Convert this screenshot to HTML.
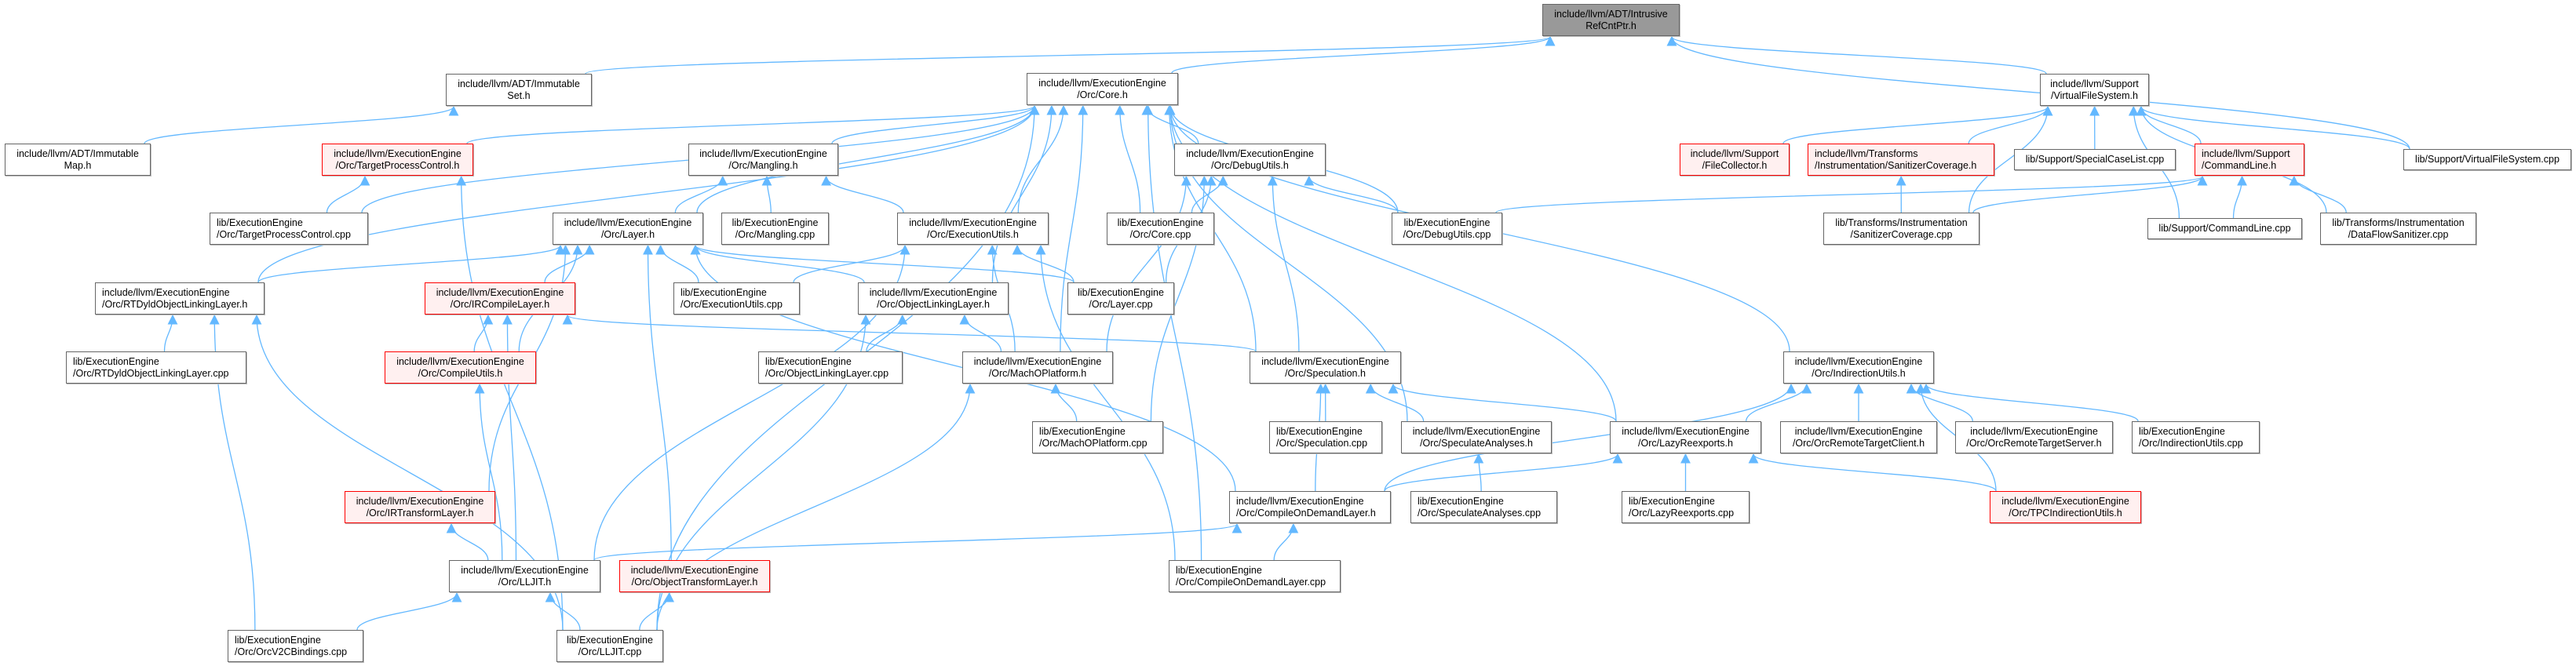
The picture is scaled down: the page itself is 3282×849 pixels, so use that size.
<!DOCTYPE html>
<html><head><meta charset="utf-8">
<style>
html,body{margin:0;padding:0;background:#fff;}
#c{position:relative;width:3282px;height:849px;overflow:hidden;}
.n{position:absolute;box-sizing:border-box;border:1px solid #666;background:#fff;font-family:"Liberation Sans",sans-serif;font-size:12.5px;line-height:15px;color:#000;display:flex;flex-direction:column;justify-content:center;align-items:center;text-align:center;white-space:nowrap;z-index:2;box-shadow:1px 1px 0 #bbb;}
.l{align-items:flex-start;text-align:left;padding-left:8px;}
.r{border-color:#f00;background:#fff0f0;}
.g{background:#999;}
svg{position:absolute;left:0;top:0;z-index:1;}
</style></head><body><div id="c">
<div class="n g" id="root" style="left:1965px;top:5px;width:175px;height:41px">include/llvm/ADT/Intrusive<br>RefCntPtr.h</div>
<div class="n" id="iset" style="left:568px;top:94px;width:186px;height:41px">include/llvm/ADT/Immutable<br>Set.h</div>
<div class="n" id="core" style="left:1308px;top:93px;width:193px;height:41px">include/llvm/ExecutionEngine<br>/Orc/Core.h</div>
<div class="n" id="vfs" style="left:2599px;top:94px;width:139px;height:41px">include/llvm/Support<br>/VirtualFileSystem.h</div>
<div class="n" id="imap" style="left:6px;top:183px;width:186px;height:41px">include/llvm/ADT/Immutable<br>Map.h</div>
<div class="n r" id="tpch" style="left:410px;top:183px;width:193px;height:41px">include/llvm/ExecutionEngine<br>/Orc/TargetProcessControl.h</div>
<div class="n" id="mangh" style="left:877px;top:183px;width:191px;height:41px">include/llvm/ExecutionEngine<br>/Orc/Mangling.h</div>
<div class="n" id="dbgh" style="left:1496px;top:183px;width:193px;height:41px">include/llvm/ExecutionEngine<br>/Orc/DebugUtils.h</div>
<div class="n r" id="fc" style="left:2140px;top:183px;width:140px;height:41px">include/llvm/Support<br>/FileCollector.h</div>
<div class="n r l" id="sch" style="left:2303px;top:183px;width:238px;height:41px">include/llvm/Transforms<br>/Instrumentation/SanitizerCoverage.h</div>
<div class="n" id="scl" style="left:2566px;top:190px;width:206px;height:27px">lib/Support/SpecialCaseList.cpp</div>
<div class="n r l" id="clh" style="left:2796px;top:183px;width:140px;height:41px">include/llvm/Support<br>/CommandLine.h</div>
<div class="n" id="vfscpp" style="left:3062px;top:190px;width:214px;height:27px">lib/Support/VirtualFileSystem.cpp</div>
<div class="n l" id="tpccpp" style="left:267px;top:271px;width:202px;height:41px">lib/ExecutionEngine<br>/Orc/TargetProcessControl.cpp</div>
<div class="n" id="layh" style="left:704px;top:271px;width:192px;height:41px">include/llvm/ExecutionEngine<br>/Orc/Layer.h</div>
<div class="n" id="mangcpp" style="left:919px;top:271px;width:137px;height:41px">lib/ExecutionEngine<br>/Orc/Mangling.cpp</div>
<div class="n" id="euh" style="left:1143px;top:271px;width:193px;height:41px">include/llvm/ExecutionEngine<br>/Orc/ExecutionUtils.h</div>
<div class="n" id="corecpp" style="left:1410px;top:271px;width:137px;height:41px">lib/ExecutionEngine<br>/Orc/Core.cpp</div>
<div class="n" id="dbgcpp" style="left:1773px;top:271px;width:141px;height:41px">lib/ExecutionEngine<br>/Orc/DebugUtils.cpp</div>
<div class="n" id="sccpp" style="left:2323px;top:271px;width:199px;height:41px">lib/Transforms/Instrumentation<br>/SanitizerCoverage.cpp</div>
<div class="n" id="clcpp" style="left:2736px;top:278px;width:197px;height:27px">lib/Support/CommandLine.cpp</div>
<div class="n" id="dfs" style="left:2956px;top:271px;width:199px;height:41px">lib/Transforms/Instrumentation<br>/DataFlowSanitizer.cpp</div>
<div class="n l" id="rtdh" style="left:121px;top:360px;width:216px;height:41px">include/llvm/ExecutionEngine<br>/Orc/RTDyldObjectLinkingLayer.h</div>
<div class="n r" id="irch" style="left:541px;top:360px;width:192px;height:41px">include/llvm/ExecutionEngine<br>/Orc/IRCompileLayer.h</div>
<div class="n l" id="eucpp" style="left:858px;top:360px;width:161px;height:41px">lib/ExecutionEngine<br>/Orc/ExecutionUtils.cpp</div>
<div class="n" id="olh" style="left:1093px;top:360px;width:192px;height:41px">include/llvm/ExecutionEngine<br>/Orc/ObjectLinkingLayer.h</div>
<div class="n" id="laycpp" style="left:1360px;top:360px;width:136px;height:41px">lib/ExecutionEngine<br>/Orc/Layer.cpp</div>
<div class="n l" id="rtdcpp" style="left:84px;top:448px;width:230px;height:41px">lib/ExecutionEngine<br>/Orc/RTDyldObjectLinkingLayer.cpp</div>
<div class="n r" id="cuh" style="left:490px;top:448px;width:193px;height:41px">include/llvm/ExecutionEngine<br>/Orc/CompileUtils.h</div>
<div class="n l" id="olcpp" style="left:966px;top:448px;width:184px;height:41px">lib/ExecutionEngine<br>/Orc/ObjectLinkingLayer.cpp</div>
<div class="n" id="mach" style="left:1226px;top:448px;width:192px;height:41px">include/llvm/ExecutionEngine<br>/Orc/MachOPlatform.h</div>
<div class="n" id="spech" style="left:1592px;top:448px;width:193px;height:41px">include/llvm/ExecutionEngine<br>/Orc/Speculation.h</div>
<div class="n" id="indh" style="left:2272px;top:448px;width:192px;height:41px">include/llvm/ExecutionEngine<br>/Orc/IndirectionUtils.h</div>
<div class="n l" id="maccpp" style="left:1315px;top:537px;width:167px;height:41px">lib/ExecutionEngine<br>/Orc/MachOPlatform.cpp</div>
<div class="n l" id="speccpp" style="left:1617px;top:537px;width:144px;height:41px">lib/ExecutionEngine<br>/Orc/Speculation.cpp</div>
<div class="n" id="sah" style="left:1785px;top:537px;width:192px;height:41px">include/llvm/ExecutionEngine<br>/Orc/SpeculateAnalyses.h</div>
<div class="n" id="lrh" style="left:2051px;top:537px;width:193px;height:41px">include/llvm/ExecutionEngine<br>/Orc/LazyReexports.h</div>
<div class="n" id="rtc" style="left:2268px;top:537px;width:200px;height:41px">include/llvm/ExecutionEngine<br>/Orc/OrcRemoteTargetClient.h</div>
<div class="n" id="rts" style="left:2491px;top:537px;width:201px;height:41px">include/llvm/ExecutionEngine<br>/Orc/OrcRemoteTargetServer.h</div>
<div class="n l" id="indcpp" style="left:2716px;top:537px;width:163px;height:41px">lib/ExecutionEngine<br>/Orc/IndirectionUtils.cpp</div>
<div class="n r" id="irth" style="left:439px;top:626px;width:192px;height:41px">include/llvm/ExecutionEngine<br>/Orc/IRTransformLayer.h</div>
<div class="n l" id="codh" style="left:1566px;top:626px;width:206px;height:41px">include/llvm/ExecutionEngine<br>/Orc/CompileOnDemandLayer.h</div>
<div class="n l" id="sacpp" style="left:1797px;top:626px;width:187px;height:41px">lib/ExecutionEngine<br>/Orc/SpeculateAnalyses.cpp</div>
<div class="n l" id="lrcpp" style="left:2066px;top:626px;width:163px;height:41px">lib/ExecutionEngine<br>/Orc/LazyReexports.cpp</div>
<div class="n r" id="tpci" style="left:2535px;top:626px;width:193px;height:41px">include/llvm/ExecutionEngine<br>/Orc/TPCIndirectionUtils.h</div>
<div class="n" id="lljith" style="left:572px;top:714px;width:193px;height:41px">include/llvm/ExecutionEngine<br>/Orc/LLJIT.h</div>
<div class="n r" id="oth" style="left:789px;top:714px;width:192px;height:41px">include/llvm/ExecutionEngine<br>/Orc/ObjectTransformLayer.h</div>
<div class="n l" id="codcpp" style="left:1489px;top:714px;width:219px;height:41px">lib/ExecutionEngine<br>/Orc/CompileOnDemandLayer.cpp</div>
<div class="n l" id="orcv2" style="left:290px;top:803px;width:173px;height:41px">lib/ExecutionEngine<br>/Orc/OrcV2CBindings.cpp</div>
<div class="n" id="lljitcpp" style="left:709px;top:803px;width:136px;height:41px">lib/ExecutionEngine<br>/Orc/LLJIT.cpp</div>
<svg id="s" width="3282" height="849"><defs><marker id="a" viewBox="0 0 10 10" refX="9" refY="5" markerWidth="13" markerHeight="13" markerUnits="userSpaceOnUse" orient="auto"><path d="M0,0L10,5L0,10z" fill="#63b8ff"/></marker></defs></svg>
</div>
<script>
var E=[["iset","root"],["core","root"],["vfs","root"],["vfscpp","root"],["imap","iset"],
["tpch","core"],["tpccpp","core"],["rtdh","core"],["layh","core"],["mangh","core"],["euh","core"],["olh","core"],["corecpp","core"],["dbgh","core"],["dbgcpp","core"],["mach","core"],["spech","core"],["sah","core"],["lrh","core"],["indh","core"],["codcpp","core"],["lljitcpp","core"],
["tpccpp","tpch"],["lljitcpp","tpch"],["layh","mangh"],["mangcpp","mangh"],["euh","mangh"],
["rtdh","layh"],["irch","layh"],["eucpp","layh"],["laycpp","layh"],["olh","layh"],["cuh","layh"],["irth","layh"],["oth","layh"],["codh","layh"],
["corecpp","dbgh"],["dbgcpp","dbgh"],["spech","dbgh"],["maccpp","dbgh"],["laycpp","dbgh"],["mach","dbgh"],
["eucpp","euh"],["laycpp","euh"],["lljith","euh"],["mach","euh"],["codcpp","euh"],
["olcpp","olh"],["mach","olh"],["lljitcpp","olh"],
["rtdcpp","rtdh"],["orcv2","rtdh"],["lljitcpp","rtdh"],
["cuh","irch"],["lljith","irch"],["spech","irch"],["lljith","cuh"],["lljith","irth"],
["orcv2","lljith"],["lljitcpp","lljith"],["lljitcpp","oth"],["maccpp","mach"],["lljitcpp","mach"],
["speccpp","spech"],["sah","spech"],["lrh","spech"],["codh","spech"],["sacpp","sah"],
["lrcpp","lrh"],["codh","lrh"],["tpci","lrh"],["codcpp","codh"],["lljith","codh"],
["lrh","indh"],["rtc","indh"],["rts","indh"],["indcpp","indh"],["tpci","indh"],["codh","indh"],
["fc","vfs"],["sch","vfs"],["scl","vfs"],["clh","vfs"],["vfscpp","vfs"],["sccpp","vfs"],["clcpp","vfs"],["dfs","vfs"],
["sccpp","clh"],["clcpp","clh"],["dfs","clh"],["dbgcpp","clh"],["sccpp","sch"]];
function b(id){var e=document.getElementById(id);return{l:e.offsetLeft,t:e.offsetTop,w:e.offsetWidth,h:e.offsetHeight};}
function cl(v,a,c){return Math.max(a,Math.min(c,v));}
var s=document.getElementById('s'),h='';
E.forEach(function(p){var S=b(p[0]),T=b(p[1]);var scx=S.l+S.w/2,tcx=T.l+T.w/2;
var sx,sy,tx,ty,d;
if(S.t-(T.t+T.h)>5){sx=cl(scx+(tcx-scx)*0.35,S.l+8,S.l+S.w-8);sy=S.t;tx=cl(tcx+(scx-tcx)*0.3,T.l+10,T.l+T.w-10);ty=T.t+T.h+1;
var m=(sy-ty)*0.45;d='M'+sx+','+sy+' C'+sx+','+(sy-m)+' '+tx+','+(ty+m)+' '+tx+','+ty;}
else{sy=S.t+S.h/2;ty=T.t+T.h/2+6;if(scx<tcx){sx=S.l+S.w;tx=T.l-1;}else{sx=S.l;tx=T.l+T.w+1;}d='M'+sx+','+sy+' C'+((sx+tx)/2)+','+sy+' '+((sx+tx)/2)+','+ty+' '+tx+','+ty;}
h+='<path d="'+d+'" fill="none" stroke="#63b8ff" stroke-width="1.3" marker-end="url(#a)"/>';});
s.insertAdjacentHTML('beforeend',h);
</script>
</body></html>
